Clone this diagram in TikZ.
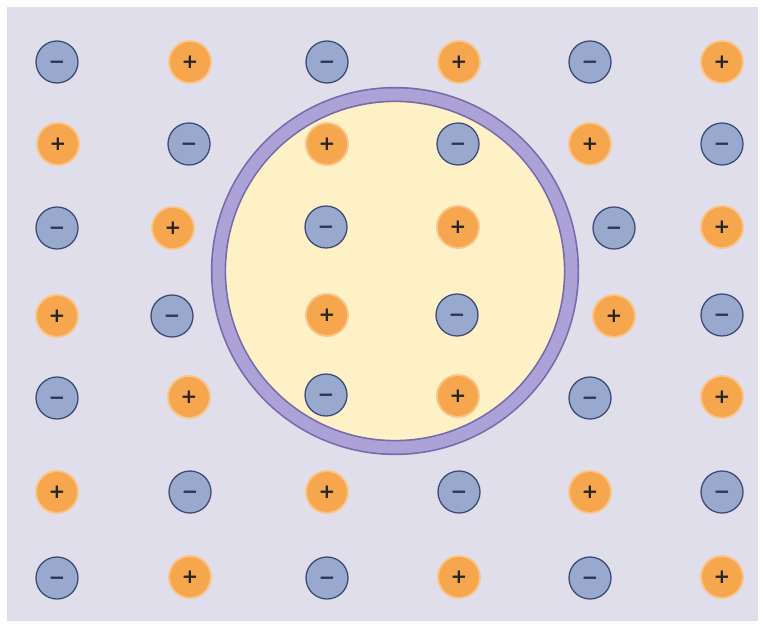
\documentclass[tikz,border=0pt]{standalone}
\usepackage{fontspec}
\usepackage{xcolor}
\usepackage{tikz}
\newfontfamily\signfont{DejaVu Sans}
\definecolor{bgcell}{HTML}{DFDEEA}
\definecolor{cytoplasm}{HTML}{FFF1C6}
\definecolor{membrane}{HTML}{ACA2D8}
\definecolor{membraneedge}{HTML}{776BA9}
\definecolor{cation}{HTML}{F6A64C}
\definecolor{cationglow}{HTML}{FAC58A}
\definecolor{anion}{HTML}{99A9CD}
\definecolor{anionedge}{HTML}{3F4B76}
\tikzset{
  ion/.style={circle,inner sep=0pt,minimum size=1.26cm,text height=12pt,text depth=0.4pt,
    font=\signfont\bfseries\fontsize{17}{17}\selectfont},
  cat/.style={ion,fill=cation,draw=cationglow,line width=1.6pt,text=black!85,node contents={+}},
  an/.style={ion,fill=anion,draw=anionedge,line width=1.1pt,text=anionedge!70!black,node contents={−}}
}

\begin{document}
\begin{tikzpicture}[x=0.03cm,y=-0.03cm]
  \def\cx{395}\def\cy{271}\def\rin{169}\def\rmid{176.5}
  \fill[white] (0,0) rectangle (763,628);
  \fill[bgcell] (7,7) rectangle (758,621);
  \fill[cytoplasm] (\cx,\cy) circle (\rin);
  \draw[membraneedge,line width=0.46cm] (\cx,\cy) circle (\rmid);
  \draw[membrane,line width=0.36cm] (\cx,\cy) circle (\rmid);
  \foreach \x/\y/\s [count=\i] in {
      57/62/an, 190/62/cat, 327/62/an, 459/62/cat, 590/62/an, 722/62/cat,
      58/144/cat, 189/144/an, 327/144/cat, 458/144/an, 590/144/cat, 722/144/an,
      57/228/an, 173/228/cat, 326/227/an, 458/227/cat, 614/228/an, 722/227/cat,
      57/316/cat, 172/316/an, 327/315/cat, 457/315/an, 614/316/cat, 722/315/an,
      57/398/an, 189/397/cat, 326/395/an, 458/396/cat, 590/398/an, 722/397/cat,
      57/492/cat, 190/492/an, 327/492/cat, 459/492/an, 590/492/cat, 722/492/an,
      57/578/an, 190/577/cat, 327/578/an, 459/577/cat, 590/578/an, 722/577/cat}
    \node (ion\i) at (\x,\y) [\s];
\end{tikzpicture}
\end{document}
